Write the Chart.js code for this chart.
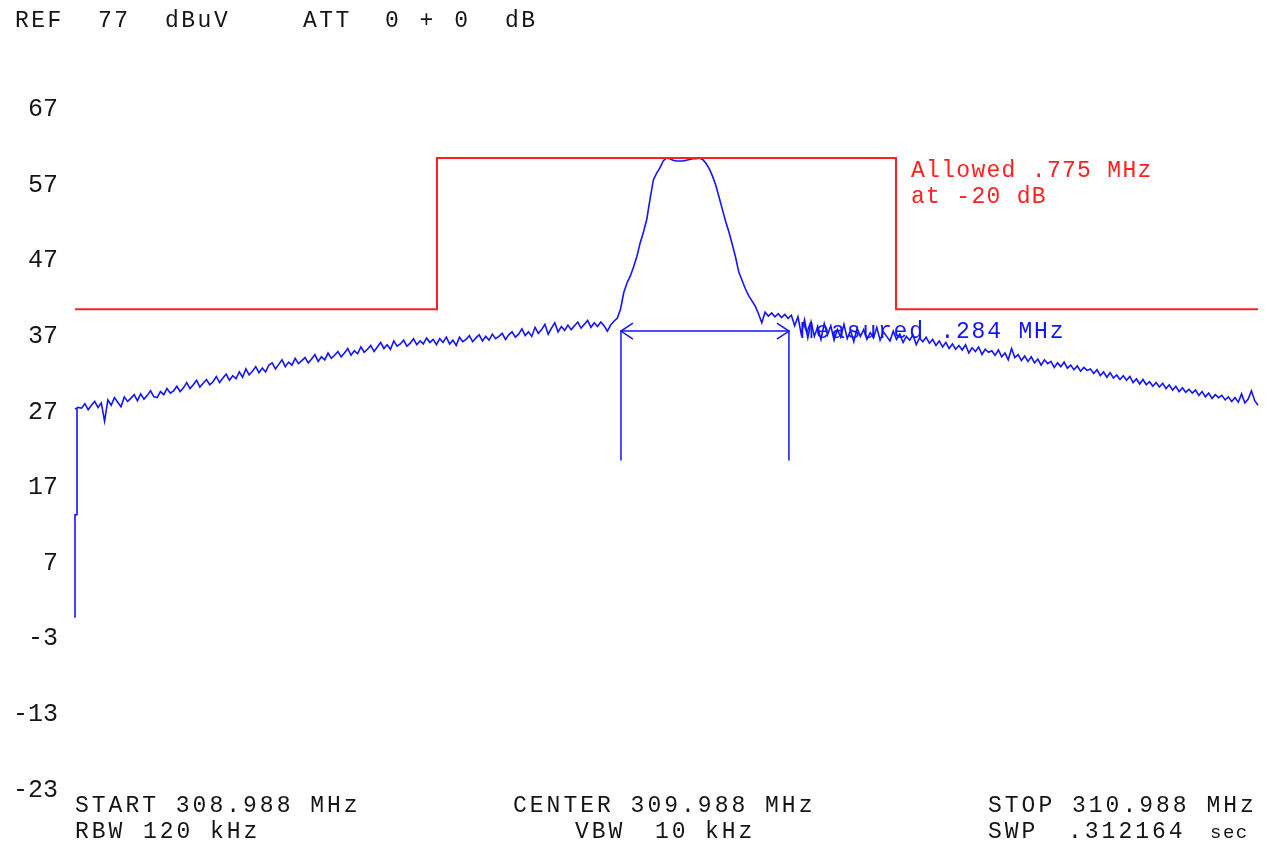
<!DOCTYPE html>
<html>
<head>
<meta charset="utf-8">
<title>Spectrum 309.988 MHz</title>
<script src="https://cdn.jsdelivr.net/npm/chart.js@4.4.1/dist/chart.umd.min.js"></script>
<style>
  html, body { margin: 0; padding: 0; background: #fff; }
  #wrap { width: 1275px; height: 849px; position: relative; }
</style>
</head>
<body>
<div id="wrap"><canvas id="chart"></canvas></div>
<script>
// sweep settings (MHz)
const startMHz = 308.988;
const stopMHz = 310.988;

// measured trace, dBuV, 361 points evenly spread from start to stop
const levels = [
  27.4, 27.6, 27.5, 28.1, 27.3, 27.9, 28.4, 27.6, 28.2, 25.8,
  28.6, 27.9, 28.9, 28.3, 27.7, 29.0, 28.4, 28.8, 29.3, 28.5,
  29.4, 28.7, 29.2, 29.8, 29.0, 28.9, 29.7, 29.3, 30.1, 29.5,
  29.8, 30.4, 29.7, 30.2, 30.9, 30.1, 30.6, 31.2, 30.3, 30.8,
  31.3, 30.6, 31.0, 31.7, 30.9, 31.5, 32.0, 31.2, 31.8, 31.4,
  32.3, 31.6, 32.7, 31.9, 32.4, 33.0, 32.2, 32.8, 32.3, 33.2,
  33.5, 32.7, 33.3, 33.9, 33.0, 33.6, 33.2, 34.1, 33.4, 33.8,
  34.2, 33.5, 34.0, 34.6, 33.7, 34.3, 33.9, 34.8, 34.1, 34.5,
  35.0, 34.3, 34.8, 35.4, 34.5, 35.1, 34.7, 35.6, 34.9, 35.3,
  35.8, 35.0, 35.6, 36.2, 35.4, 35.9, 35.3, 36.4, 35.7, 36.0,
  36.5, 35.7, 36.1, 36.7, 35.9, 36.4, 36.0, 36.8, 36.2, 36.6,
  35.9, 36.7, 36.2, 36.9, 36.0, 36.5, 35.8, 36.9, 36.3, 36.6,
  37.1, 36.3, 36.8, 37.2, 36.4, 37.0, 36.5, 37.3, 36.7, 37.0,
  37.4, 36.6, 37.2, 37.6, 36.9, 37.3, 38.0, 37.1, 37.6, 37.0,
  38.2, 37.4, 37.9, 38.6, 37.3, 38.1, 38.8, 37.6, 38.3, 37.8,
  38.5, 37.9, 38.4, 38.9, 38.1, 38.6, 39.1, 38.2, 38.8, 38.3,
  38.9, 38.4, 37.7, 38.5, 39.0,
  39.4, 40.6, 42.8, 44.1, 45.0, 46.2, 47.6, 49.4, 50.8, 52.5,
  55.2, 57.7, 58.6, 59.3, 60.2, 60.6, 60.5, 60.3, 60.2, 60.2,
  60.2, 60.3, 60.4, 60.5, 60.5, 60.6, 60.4, 59.9, 59.2, 58.2,
  57.0, 55.4, 53.8, 52.2, 50.8, 49.2, 47.5, 45.5, 44.4, 43.3,
  42.4, 41.7, 41.0, 40.0, 38.8,
  40.2, 39.7, 40.1, 39.6, 40.0, 39.5, 39.9, 39.4, 39.8, 38.4,
  39.6, 37.3, 39.2, 36.8, 38.9, 37.0, 38.3, 36.6, 38.7, 37.2,
  38.4, 36.5, 37.9, 36.9, 38.6, 36.7, 37.8, 36.3, 38.1, 37.0,
  37.9, 36.6, 37.5, 36.8, 38.2, 36.5, 37.6, 37.0, 36.4, 37.7,
  36.6, 37.3, 36.2, 37.0, 36.5, 37.2, 35.9, 36.8, 36.3, 36.9,
  36.1, 36.6, 35.8, 36.4, 35.6, 36.2, 35.4, 36.0, 35.3, 35.8,
  35.2, 35.9, 34.8, 35.5, 35.0, 35.6, 34.6, 35.3, 34.9, 35.1,
  34.5, 35.2, 34.3, 34.8, 33.9, 35.4, 34.2, 34.6, 33.8, 34.4,
  33.7, 34.3, 33.5, 34.0, 33.2, 33.9, 33.4, 33.7, 32.9, 33.5,
  33.0, 33.6, 32.8, 33.2, 32.6, 33.1, 32.4, 32.9, 32.5, 32.7,
  32.1, 32.6, 31.8, 32.3, 31.6, 32.2, 31.5, 31.9, 31.3, 31.8,
  31.2, 31.7, 30.9, 31.4, 30.7, 31.3, 30.6, 31.0, 30.4, 30.9,
  30.3, 30.8, 30.1, 30.6, 29.9, 30.4, 29.7, 30.2, 29.6, 30.0,
  29.5, 29.9, 29.2, 29.7, 29.0, 29.5, 28.8, 29.3, 28.9, 29.2,
  28.6, 29.0, 28.4, 28.9, 28.3, 29.4, 28.2, 28.7, 29.8, 28.5, 27.9
];

// rising edge at the very start of the sweep
const edgeFreqs = [308.988, 308.988, 308.9914, 308.9914];
const edgeLevels = [-0.2, 13.4, 13.4, 27.4];

// allowed bandwidth mask
const maskFreqs = [308.988, 309.600, 309.600, 310.376, 310.376, 310.988];
const maskLevels = [40.6, 40.6, 60.6, 60.6, 40.6, 40.6];

// measured bandwidth markers
const markerFreqs = [309.911, 309.911, 310.195, 310.195];
const markerLevels = [20.6, 37.7, 37.7, 20.6];

// y tick labels shown on the left
const yTickLabels = [67, 57, 47, 37, 27, 17, 7, -3, -13, -23];
const refLevel = 77;
const bottomLevel = -23;

const BLUE = "#1414ff";
const RED = "#ff2020";
const INK = "#151515";
const FONT = "'Liberation Mono', 'DejaVu Sans Mono', monospace";

const step = (stopMHz - startMHz) / (levels.length - 1);
const trace = levels.map((v, i) => ({ x: startMHz + i * step, y: v }));
const pairs = (xs, ys) => xs.map((f, i) => ({ x: f, y: ys[i] }));

// arrow heads and all the instrument texts
const overlay = {
  id: "overlay",
  afterDatasetsDraw(chart) {
    const { ctx, scales: { x, y } } = chart;
    ctx.save();

    const ay = y.getPixelForValue(markerLevels[1]);
    const lx = x.getPixelForValue(markerFreqs[1]);
    const rx = x.getPixelForValue(markerFreqs[2]);
    ctx.strokeStyle = BLUE;
    ctx.lineWidth = 1.5;
    ctx.beginPath();
    ctx.moveTo(lx + 12, ay - 8); ctx.lineTo(lx, ay); ctx.lineTo(lx + 12, ay + 8);
    ctx.moveTo(rx - 12, ay - 8); ctx.lineTo(rx, ay); ctx.lineTo(rx - 12, ay + 8);
    ctx.stroke();

    const txt = (s, px, py, color, size, gap) => {
      ctx.font = (size || 23) + "px " + FONT;
      ctx.fillStyle = color || INK;
      ctx.letterSpacing = (gap == null ? 2.5 : gap) + "px";
      ctx.textAlign = "left";
      ctx.textBaseline = "alphabetic";
      ctx.fillText(s, px, py);
    };

    // header
    txt("REF", 15, 27);
    txt("77", 98, 27);
    txt("dBuV", 165, 27);
    txt("ATT", 303, 27);
    txt("0 + 0", 385, 27, INK, 23, 3.5);
    txt("dB", 505, 27);

    // annotations
    txt("Allowed .775 MHz", 911, 177, RED, 23, 1.3);
    txt("at -20 dB", 911, 203, RED, 23, 1.3);
    txt("Measured .284 MHz", 800, 338, BLUE, 23, 1.8);

    // footer
    txt("START 308.988 MHz", 75, 812, INK, 23, 3);
    txt("RBW", 75, 838, INK, 23, 3);
    txt("120", 143, 838, INK, 23, 3);
    txt("kHz", 210, 838, INK, 23, 3);
    txt("CENTER 309.988 MHz", 513, 812, INK, 23, 3);
    txt("VBW", 575, 838, INK, 23, 3);
    txt("10", 655, 838, INK, 23, 3);
    txt("kHz", 705, 838, INK, 23, 3);
    txt("STOP 310.988 MHz", 988, 812, INK, 23, 3);
    txt("SWP", 988, 838, INK, 23, 3);
    txt(".312164", 1068, 838, INK, 23, 3);
    txt("sec", 1210, 838, INK, 19, 1.5);

    ctx.restore();
  }
};

new Chart(document.getElementById("chart"), {
  type: "line",
  data: {
    datasets: [
      { data: pairs(maskFreqs, maskLevels), borderColor: RED, borderWidth: 2 },
      { data: trace, borderColor: BLUE, borderWidth: 1.6 },
      { data: pairs(edgeFreqs, edgeLevels), borderColor: BLUE, borderWidth: 1.6 },
      { data: pairs(markerFreqs, markerLevels), borderColor: BLUE, borderWidth: 1.5 }
    ]
  },
  options: {
    responsive: true,
    maintainAspectRatio: false,
    animation: false,
    layout: { padding: { top: 34, bottom: 59, left: 0, right: 17 } },
    elements: {
      point: { radius: 0 },
      line: { tension: 0, fill: false }
    },
    datasets: { line: { clip: 6 } },
    plugins: {
      legend: { display: false },
      tooltip: { enabled: false }
    },
    scales: {
      x: { type: "linear", min: startMHz, max: stopMHz, display: false },
      y: {
        min: bottomLevel,
        max: refLevel,
        afterFit(scale) { scale.width = 75; },
        grid: { display: false, drawTicks: false },
        border: { display: false },
        ticks: {
          stepSize: 10,
          padding: 17,
          color: INK,
          font: { family: FONT, size: 25 },
          callback: (v) => (yTickLabels.includes(v) ? String(v) : "")
        }
      }
    }
  },
  plugins: [overlay]
});
</script>
</body>
</html>
